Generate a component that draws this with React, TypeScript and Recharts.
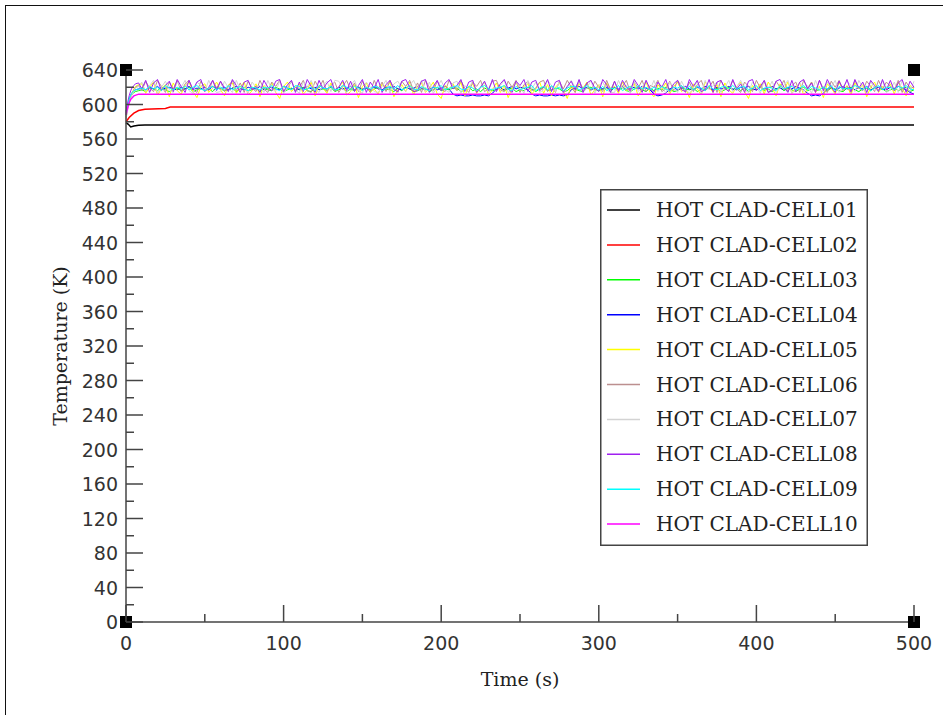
import React from 'react';
import { ComposedChart, Line, XAxis, YAxis, Scatter, Legend } from 'recharts';

// ---------- data ----------
const times = [
  0, 1, 2, 3, 4, 5, 6, 8,
  10, 12.5, 15, 17.5, 20, 22.5, 25, 27.5, 30, 32.5,
  35, 37.5, 40, 42.5, 45, 47.5, 50, 52.5, 55, 57.5,
  60, 62.5, 65, 67.5, 70, 72.5, 75, 77.5, 80, 82.5,
  85, 87.5, 90, 92.5, 95, 97.5, 100, 102.5, 105, 107.5,
  110, 112.5, 115, 117.5, 120, 122.5, 125, 127.5, 130, 132.5,
  135, 137.5, 140, 142.5, 145, 147.5, 150, 152.5, 155, 157.5,
  160, 162.5, 165, 167.5, 170, 172.5, 175, 177.5, 180, 182.5,
  185, 187.5, 190, 192.5, 195, 197.5, 200, 202.5, 205, 207.5,
  210, 212.5, 215, 217.5, 220, 222.5, 225, 227.5, 230, 232.5,
  235, 237.5, 240, 242.5, 245, 247.5, 250, 252.5, 255, 257.5,
  260, 262.5, 265, 267.5, 270, 272.5, 275, 277.5, 280, 282.5,
  285, 287.5, 290, 292.5, 295, 297.5, 300, 302.5, 305, 307.5,
  310, 312.5, 315, 317.5, 320, 322.5, 325, 327.5, 330, 332.5,
  335, 337.5, 340, 342.5, 345, 347.5, 350, 352.5, 355, 357.5,
  360, 362.5, 365, 367.5, 370, 372.5, 375, 377.5, 380, 382.5,
  385, 387.5, 390, 392.5, 395, 397.5, 400, 402.5, 405, 407.5,
  410, 412.5, 415, 417.5, 420, 422.5, 425, 427.5, 430, 432.5,
  435, 437.5, 440, 442.5, 445, 447.5, 450, 452.5, 455, 457.5,
  460, 462.5, 465, 467.5, 470, 472.5, 475, 477.5, 480, 482.5,
  485, 487.5, 490, 492.5, 495, 497.5, 500,
];

const cell01Times = [0, 1.5, 3, 5, 8, 12, 500];
const cell01 = [579, 577, 574, 575, 576, 576.2, 576.2];

const cell02Times = [0, 2, 5, 8, 12, 25, 28, 500];
const cell02 = [580, 585, 590, 593, 594.5, 595.5, 597, 597];

const cell03 = [
  586, 596, 604, 609, 612, 614, 615, 616,
  617, 615, 619, 618, 616, 620, 617, 615, 618, 619,
  616, 618, 620, 615, 617, 619, 616, 618, 615, 620,
  618, 616, 617, 619, 615, 618, 620, 616, 617, 619,
  615, 619, 617, 616, 620, 618, 615, 617, 619, 616,
  618, 620, 616, 615, 619, 617, 618, 616, 620, 615,
  617, 619, 615, 618, 616, 620, 617, 619, 616, 618,
  620, 616, 618, 617, 615, 619, 616, 620, 618, 615,
  616, 618, 619, 615, 617, 620, 616, 618, 617, 619,
  619, 615, 617, 620, 616, 618, 615, 619, 617, 616,
  617, 620, 616, 618, 619, 615, 617, 616, 620, 618,
  615, 618, 620, 616, 617, 619, 618, 615, 616, 620,
  618, 616, 615, 619, 620, 617, 616, 618, 619, 615,
  620, 617, 619, 616, 615, 618, 620, 617, 615, 619,
  616, 619, 617, 620, 618, 615, 616, 619, 618, 617,
  619, 615, 618, 617, 620, 616, 619, 615, 617, 620,
  617, 620, 616, 619, 615, 618, 617, 620, 616, 618,
  615, 618, 620, 616, 619, 617, 615, 618, 620, 616,
  618, 616, 617, 620, 616, 619, 618, 616, 615, 619,
  620, 617, 615, 618, 619, 616, 620, 617, 618, 615,
  617, 619, 616, 618, 620, 615, 617,
];

const cell04 = [
  592, 600, 606, 611, 614, 616, 617, 618,
  619, 617, 620, 618, 621, 617, 619, 620, 618, 617,
  620, 618, 621, 617, 619, 618, 620, 617, 621, 619,
  618, 620, 617, 619, 621, 618, 617, 620, 619, 618,
  621, 617, 619, 620, 618, 617, 621, 619, 618, 620,
  617, 619, 621, 618, 620, 617, 619, 618, 621, 617,
  620, 618, 619, 621, 617, 620, 618, 619, 617, 621,
  618, 617, 620, 619, 621, 618, 617, 620, 618, 619,
  621, 619, 617, 618, 620, 617, 619, 621, 618, 612,
  610, 611, 610, 610, 611, 610, 610, 611, 610, 613,
  618, 620, 617, 619, 621, 618, 620, 619, 617, 612,
  610, 611, 610, 610, 611, 610, 611, 610, 611, 617,
  619, 621, 618, 620, 617, 619, 621, 618, 620, 617,
  620, 618, 621, 617, 619, 620, 618, 621, 619, 617,
  612, 610, 611, 613, 618, 620, 617, 619, 621, 618,
  617, 620, 618, 621, 619, 617, 620, 618, 619, 621,
  618, 617, 620, 619, 621, 618, 617, 620, 618, 619,
  621, 618, 619, 617, 620, 618, 621, 619, 617, 613,
  610, 611, 610, 613, 618, 620, 617, 619, 621, 618,
  619, 617, 620, 618, 621, 617, 619, 620, 618, 617,
  620, 618, 621, 619, 617, 614, 612,
];

const cell05 = [
  588, 597, 605, 610, 614, 618, 621, 623,
  624, 613, 620, 626, 611, 618, 623, 609, 625, 616,
  612, 622, 626, 615, 608, 621, 624, 614, 619, 626,
  617, 610, 623, 625, 613, 620, 626, 611, 616, 624,
  609, 622, 618, 625, 614, 607, 621, 626, 615, 620,
  624, 612, 617, 626, 610, 622, 619, 613, 625, 616,
  620, 626, 611, 615, 623, 608, 621, 625, 614, 618,
  612, 624, 620, 626, 609, 617, 623, 615, 626, 611,
  621, 625, 614, 619, 626, 612, 607, 622, 618, 624,
  616, 626, 610, 621, 624, 613, 620, 626, 611, 617,
  625, 614, 622, 608, 619, 626, 615, 621, 624, 612,
  618, 626, 613, 623, 610, 620, 625, 616, 607, 622,
  614, 624, 619, 626, 611, 617, 623, 609, 625, 618,
  621, 613, 626, 616, 620, 624, 610, 618, 626, 614,
  609, 623, 617, 625, 612, 621, 626, 615, 619, 608,
  624, 618, 611, 626, 620, 614, 623, 609, 625, 617,
  613, 621, 626, 615, 607, 622, 618, 624, 612, 626,
  619, 610, 624, 617, 626, 613, 620, 625, 611, 618,
  626, 614, 621, 608, 624, 619, 612, 626, 616, 622,
  611, 625, 618, 623, 609, 620, 626, 614, 621, 617,
  624, 612, 626, 619, 610, 622, 618,
];

const cell06 = [
  584, 594, 603, 609, 613, 617, 620, 622,
  616, 627, 619, 615, 628, 621, 614, 626, 618, 628,
  615, 624, 628, 617, 614, 627, 620, 616, 628, 619,
  627, 615, 621, 628, 616, 625, 614, 627, 619, 615,
  628, 618, 614, 626, 621, 628, 615, 619, 627, 616,
  620, 628, 616, 614, 627, 619, 628, 615, 622, 626,
  614, 621, 628, 617, 625, 615, 627, 620, 614, 628,
  618, 626, 615, 628, 619, 614, 627, 621, 628, 616,
  625, 614, 628, 620, 616, 627, 618, 615, 628, 622,
  616, 628, 619, 614, 626, 621, 628, 615, 618, 627,
  628, 617, 615, 627, 620, 628, 614, 623, 627, 616,
  619, 626, 628, 615, 621, 614, 627, 618, 628, 620,
  614, 628, 618, 625, 616, 627, 620, 615, 628, 617,
  627, 616, 621, 628, 614, 626, 619, 628, 615, 622,
  620, 628, 615, 618, 627, 616, 628, 621, 614, 626,
  615, 623, 628, 616, 620, 627, 614, 628, 618, 616,
  628, 618, 614, 626, 621, 615, 628, 619, 627, 614,
  617, 627, 620, 628, 615, 622, 626, 614, 628, 619,
  626, 615, 628, 618, 614, 627, 620, 628, 616, 621,
  614, 628, 619, 616, 627, 621, 615, 628, 618, 626,
  621, 616, 628, 614, 626, 619, 620,
];

const cell07 = [
  583, 593, 602, 608, 612, 616, 619, 621,
  626, 615, 622, 628, 613, 620, 627, 617, 614, 626,
  620, 628, 616, 613, 626, 622, 615, 628, 618, 614,
  615, 627, 619, 614, 628, 617, 621, 613, 626, 620,
  622, 614, 628, 618, 615, 627, 613, 620, 628, 617,
  613, 626, 620, 628, 617, 614, 622, 627, 615, 628,
  627, 618, 614, 622, 628, 616, 613, 626, 620, 615,
  614, 621, 628, 613, 624, 627, 619, 615, 622, 628,
  618, 628, 615, 626, 613, 620, 628, 617, 614, 625,
  627, 613, 622, 617, 628, 615, 620, 626, 614, 619,
  615, 622, 628, 614, 617, 626, 620, 613, 628, 618,
  626, 614, 617, 628, 622, 615, 627, 613, 619, 628,
  620, 627, 614, 619, 628, 613, 622, 626, 617, 614,
  614, 628, 618, 622, 613, 627, 615, 620, 628, 617,
  628, 615, 622, 613, 626, 620, 614, 627, 618, 613,
  619, 627, 613, 628, 617, 622, 626, 614, 620, 628,
  615, 620, 628, 617, 614, 626, 621, 613, 628, 618,
  627, 614, 619, 622, 628, 613, 617, 626, 615, 622,
  613, 628, 617, 615, 626, 620, 628, 614, 621, 627,
  622, 615, 628, 620, 613, 627, 618, 616, 628, 614,
  617, 626, 614, 628, 620, 615, 627,
];

const cell08 = [
  590, 602, 610, 616, 620, 622, 624, 625,
  618, 628, 614, 625, 629, 616, 622, 627, 615, 629,
  621, 614, 628, 617, 626, 629, 615, 620, 628, 616,
  627, 619, 615, 629, 622, 614, 626, 628, 617, 621,
  614, 628, 620, 616, 627, 629, 615, 623, 628, 614,
  626, 615, 629, 621, 614, 628, 618, 625, 629, 616,
  620, 628, 616, 627, 615, 622, 629, 614, 626, 619,
  629, 614, 623, 628, 617, 615, 627, 629, 620, 615,
  616, 627, 629, 614, 621, 628, 616, 625, 629, 618,
  622, 629, 615, 626, 628, 614, 620, 627, 616, 629,
  615, 624, 629, 618, 614, 627, 622, 629, 615, 626,
  628, 616, 620, 629, 615, 626, 628, 614, 621, 627,
  617, 629, 614, 625, 628, 619, 615, 629, 623, 614,
  627, 615, 628, 620, 616, 629, 622, 614, 628, 618,
  614, 626, 620, 629, 615, 624, 628, 617, 615, 629,
  621, 628, 615, 617, 629, 614, 626, 628, 619, 615,
  629, 618, 624, 614, 627, 629, 616, 621, 628, 614,
  616, 627, 629, 620, 614, 628, 615, 626, 629, 618,
  625, 614, 628, 616, 629, 620, 614, 627, 618, 629,
  615, 629, 619, 626, 614, 628, 622, 615, 629, 617,
  628, 616, 625, 629, 614, 627, 620,
];

const cell09 = [
  588, 598, 606, 611, 614, 616, 617, 618,
  619, 617, 621, 618, 620, 616, 622, 619, 617, 620,
  618, 621, 617, 620, 622, 618, 616, 619, 621, 617,
  620, 618, 622, 617, 619, 621, 618, 616, 620, 619,
  617, 620, 619, 622, 618, 616, 621, 619, 617, 622,
  621, 617, 618, 620, 616, 622, 619, 618, 621, 617,
  618, 622, 620, 617, 621, 619, 616, 620, 618, 621,
  620, 616, 619, 621, 618, 622, 617, 619, 622, 618,
  617, 621, 618, 616, 620, 619, 622, 617, 619, 620,
  622, 618, 617, 621, 619, 616, 620, 622, 618, 617,
  619, 620, 622, 618, 616, 621, 617, 619, 620, 622,
  616, 619, 621, 617, 622, 618, 620, 616, 619, 621,
  621, 617, 619, 622, 618, 620, 617, 621, 616, 619,
  618, 622, 616, 619, 621, 617, 622, 618, 620, 617,
  620, 617, 621, 618, 616, 620, 619, 622, 617, 621,
  617, 621, 619, 616, 622, 618, 617, 620, 621, 618,
  622, 618, 620, 621, 617, 619, 622, 616, 619, 620,
  619, 616, 622, 618, 620, 621, 617, 619, 622, 617,
  621, 619, 617, 620, 618, 622, 616, 621, 618, 619,
  618, 622, 620, 617, 621, 616, 619, 622, 617, 620,
  620, 617, 621, 619, 622, 618, 617,
];

const cell10Times = [0, 1, 2, 3, 5, 8, 500];
const cell10 = [588, 596, 602, 606, 610, 612, 612];

const seriesNames = [
  'HOT CLAD-CELL01', 'HOT CLAD-CELL02', 'HOT CLAD-CELL03', 'HOT CLAD-CELL04', 'HOT CLAD-CELL05',
  'HOT CLAD-CELL06', 'HOT CLAD-CELL07', 'HOT CLAD-CELL08', 'HOT CLAD-CELL09', 'HOT CLAD-CELL10',
];
const seriesColors = [
  '#000000', '#ff0000', '#00ff00', '#0000ff', '#ffff00',
  '#bc8f8f', '#d3d3d3', '#a020f0', '#00ffff', '#ff00ff',
];

const xTicks = [0, 50, 100, 150, 200, 250, 300, 350, 400, 450, 500];
const xLabels = [0, 100, 200, 300, 400, 500];
const yTicks = [0, 20, 40, 60, 80, 100, 120, 140, 160, 180, 200, 220, 240, 260, 280, 300, 320, 340, 360, 380, 400, 420, 440, 460, 480, 500, 520, 540, 560, 580, 600, 620, 640];
const yLabels = [0, 40, 80, 120, 160, 200, 240, 280, 320, 360, 400, 440, 480, 520, 560, 600, 640];

const corners = [
  { t: 0, v: 0 }, { t: 500, v: 0 }, { t: 0, v: 640 }, { t: 500, v: 640 },
];

// ---------- build rows ----------
const rows = (ts: number[], vs: number[]) => ts.map((t, i) => ({ t, v: vs[i] }));
const seriesData = [
  rows(cell01Times, cell01),
  rows(cell02Times, cell02),
  rows(times, cell03),
  rows(times, cell04),
  rows(times, cell05),
  rows(times, cell06),
  rows(times, cell07),
  rows(times, cell08),
  rows(times, cell09),
  rows(cell10Times, cell10),
];
const seriesWidths = [1.5, 1.5, 1, 1, 1, 1, 1, 1, 1, 1.5];

// ---------- styling ----------
const AXIS = '#444';
const TICK_FONT = 'DejaVu Sans';
const SERIF = 'DejaVu Serif';
const MAJOR = 17;
const MINOR = 8;

const BottomTick = (p: any) => {
  const v = p.payload.value;
  const major = xLabels.includes(v);
  return (
    <g>
      <line x1={p.x} x2={p.x} y1={p.y} y2={p.y - (major ? MAJOR : MINOR)} stroke={AXIS} strokeWidth={1.5} />
      {major && (
        <text x={p.x} y={p.y + 28} textAnchor="middle" fontFamily={TICK_FONT} fontSize={19} fill="#333">{v}</text>
      )}
    </g>
  );
};

const TopTick = (p: any) => {
  const v = p.payload.value;
  const major = xLabels.includes(v);
  return <line x1={p.x} x2={p.x} y1={p.y} y2={p.y + (major ? MAJOR : MINOR)} stroke={AXIS} strokeWidth={1.5} />;
};

const LeftTick = (p: any) => {
  const v = p.payload.value;
  const major = yLabels.includes(v);
  return (
    <g>
      <line x1={p.x} x2={p.x + (major ? MAJOR : MINOR)} y1={p.y} y2={p.y} stroke={AXIS} strokeWidth={1.5} />
      {major && (
        <text x={p.x - 8} y={p.y + 7} textAnchor="end" fontFamily={TICK_FONT} fontSize={19} fill="#333">{v}</text>
      )}
    </g>
  );
};

const RightTick = (p: any) => {
  const v = p.payload.value;
  const major = yLabels.includes(v);
  return <line x1={p.x} x2={p.x - (major ? MAJOR : MINOR)} y1={p.y} y2={p.y} stroke={AXIS} strokeWidth={1.5} />;
};

const CornerSquare = (p: any) => (
  <rect x={p.cx - 6} y={p.cy - 6} width={12} height={12} fill="#000" />
);

const LegendBox = () => (
  <svg width={268} height={357} style={{ display: 'block' }}>
    <rect x={0.75} y={0.75} width={266.5} height={355.5} fill="#fff" stroke={AXIS} strokeWidth={1.5} />
    {seriesNames.map((name, i) => {
      const cy = 21 + i * 34.9;
      return (
        <g key={name}>
          <line x1={7} x2={40} y1={cy} y2={cy} stroke={seriesColors[i]} strokeWidth={1.5} />
          <text x={56} y={cy + 7} fontFamily={SERIF} fontSize={20} fill="#222">{name}</text>
        </g>
      );
    })}
  </svg>
);

export default function App() {
  return (
    <div style={{ position: 'absolute', left: 0, top: 0, width: 943, height: 715, overflow: 'hidden', background: '#fff' }}>
      <div style={{ position: 'absolute', left: 5, top: 5, width: 1000, height: 1000, borderLeft: '1.5px solid #111', borderTop: '1.5px solid #111' }} />
      <div style={{ position: 'absolute', left: 0, top: 0 }}>
        <ComposedChart width={943} height={715} margin={{ top: 70, right: 29, bottom: 0, left: 0 }}>
          <XAxis
            xAxisId="b" dataKey="t" type="number" domain={[0, 500]} ticks={xTicks} interval={0}
            orientation="bottom" height={93} tickSize={0} tickMargin={0} tickLine={false}
            axisLine={{ stroke: AXIS, strokeWidth: 1.5 }} tick={BottomTick}
            label={{
              content: (lp: any) => {
                const vb = lp.viewBox;
                return (
                  <text x={vb.x + vb.width / 2} y={vb.y + 64} textAnchor="middle" fontFamily={SERIF} fontSize={19} fill="#222">Time (s)</text>
                );
              },
            }}
          />
          <XAxis
            xAxisId="t" dataKey="t" type="number" domain={[0, 500]} ticks={xTicks} interval={0}
            orientation="top" height={0} tickSize={0} tickMargin={0} tickLine={false}
            axisLine={{ stroke: AXIS, strokeWidth: 1.5 }} tick={TopTick}
          />
          <YAxis
            yAxisId="l" type="number" domain={[0, 640]} ticks={yTicks} interval={0}
            orientation="left" width={126} tickSize={0} tickMargin={0} tickLine={false}
            axisLine={{ stroke: AXIS, strokeWidth: 1.5 }} tick={LeftTick}
            label={{
              content: (lp: any) => {
                const vb = lp.viewBox;
                const cy = vb.y + vb.height / 2;
                return (
                  <text transform={`translate(67, ${cy}) rotate(-90)`} x={0} y={0} textAnchor="middle" fontFamily={SERIF} fontSize={19} fill="#222">Temperature (K)</text>
                );
              },
            }}
          />
          <YAxis
            yAxisId="r" type="number" domain={[0, 640]} ticks={yTicks} interval={0}
            orientation="right" width={0} tickSize={0} tickMargin={0} tickLine={false}
            axisLine={{ stroke: AXIS, strokeWidth: 1.5 }} tick={RightTick}
          />
          {seriesData.map((d, i) => (
            <Line
              key={seriesNames[i]} data={d} dataKey="v" name={seriesNames[i]}
              xAxisId="b" yAxisId="l" type="linear" stroke={seriesColors[i]} strokeWidth={seriesWidths[i]}
              dot={false} activeDot={false} isAnimationActive={false}
            />
          ))}
          <Scatter
            data={corners} dataKey="v" xAxisId="b" yAxisId="l" shape={CornerSquare}
            legendType="none" isAnimationActive={false}
          />
          <Legend
            layout="vertical" align="center" verticalAlign="middle" content={LegendBox}
            wrapperStyle={{ position: 'absolute', left: 600, top: 189, width: 268, height: 357, margin: 0, padding: 0 }}
          />
        </ComposedChart>
      </div>
    </div>
  );
}
